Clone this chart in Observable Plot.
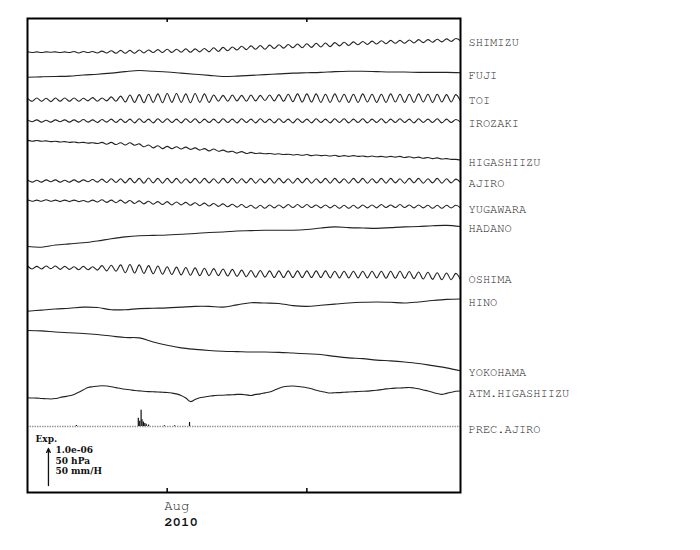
<!DOCTYPE html>
<html><head><meta charset="utf-8">
<script src="https://cdn.jsdelivr.net/npm/d3@7"></script>
<script src="https://cdn.jsdelivr.net/npm/@observablehq/plot@0.6"></script>
<style>body{margin:0;background:#fff}</style>
</head><body><div id="chart"></div>
<script>
// ---------------- DATA ----------------
const startDate = Date.UTC(2010, 6, 17);       // left edge of the chart (Jul 17, 2010)
const spanDays = 46.5;                          // plotted span in days
const stations = ["SHIMIZU","FUJI","TOI","IROZAKI","HIGASHIIZU","AJIRO","YUGAWARA","HADANO","OSHIMA","HINO","YOKOHAMA","ATM.HIGASHIIZU","PREC.AJIRO"];

// strain, unit 1e-8, sampled every 0.5 day
const shimizu = [1,-1,1,-1,1,0,1,-1,1,-1, 2,-2,2,-1,2,-2,3,-2,4,-3, 5,-3,5,-3,6,-2,6,-1,7,-1, 8,-1,8,0,9,0,9,1,10,1,
 12,2,13,4,14,6,16,7,17,8, 18,8,19,10,20,11,21,12,22,12, 23,13,24,14,25,15,26,17,27,18, 28,20,29,21,30,22,31,23,32,24,
 32,24,33,25,34,26,34,27,35,28, 36,29,37,31];
const toi = [4,-4,5,-4,4,-5,5,-4,5,-4, 5,-4,4,-3,6,-4,5,-3,8,-4, 10,-6,13,-7,14,-8,15,-7,16,-8, 17,-7,17,-7,16,-8,17,-7,16,-7,
 13,-4,12,-4,13,-3,12,-4,13,-3, 12,-2,13,-3,14,-4,15,-5,16,-6, 16,-6,16,-7,15,-7,16,-6,15,-7, 15,-7,16,-6,15,-7,15,-7,16,-6,
 15,-7,15,-7,16,-6,15,-7,15,-6, 14,-6,14,-4];
const irozaki = [3,-2,3,-3,2,-3,3,-2,3,-3, 3,-3,4,-3,3,-4,4,-3,5,-4, 5,-4,5,-5,6,-4,5,-5,6,-4, 6,-4,5,-5,6,-4,6,-5,5,-4,
 5,-5,6,-4,5,-5,6,-4,5,-5, 6,-4,5,-5,6,-4,5,-5,6,-4, 5,-5,6,-4,5,-5,6,-4,6,-5, 5,-4,6,-5,5,-4,6,-5,5,-4,
 6,-4,5,-5,6,-4,5,-4,6,-5, 5,-4,4,-3];
const higashiizu = [1,-2,0,-2,-1,-3,-2,-4,-3,-5, -4,-6,-5,-7,-6,-8,-5,-10,-5,-11, -6,-12,-6,-13,-9,-17,-12,-20,-14,-22,
 -16,-22,-17,-23,-18,-24,-20,-26,-22,-28, -23,-29,-26,-31,-29,-34,-30,-35,-32,-35, -34,-36,-35,-37,-36,-38,-37,-39,-38,-40,
 -38,-41,-39,-41,-40,-42,-40,-43,-41,-43, -41,-43,-42,-44,-42,-44,-43,-45,-43,-45, -43,-46,-44,-47,-45,-48,-46,-49,-47,-50,
 -49,-51,-51,-53];
const ajiro = [3,-3,2,-3,3,-2,3,-3,2,-3, 3,-3,3,-2,4,-3,5,-4,6,-4, 6,-5,7,-5,7,-6,8,-5,7,-6, 7,-5,7,-6,6,-5,7,-6,7,-5,
 6,-6,7,-5,7,-6,6,-5,7,-6, 6,-5,7,-6,7,-5,6,-6,7,-5, 7,-6,6,-5,7,-6,7,-5,6,-6, 7,-5,7,-6,6,-5,7,-6,7,-5,
 6,-6,7,-5,7,-6,6,-5,7,-6, 6,-5,5,-4];
const yugawara = [2,-2,1,-2,2,-2,1,-3,1,-3, 1,-3,0,-4,1,-4,2,-5,1,-6, 1,-7,0,-8,-1,-9,-2,-10,-3,-11, -3,-12,-4,-12,-5,-13,-6,-14,-7,-15,
 -8,-16,-9,-17,-10,-18,-11,-19,-13,-21, -13,-21,-12,-20,-12,-20,-11,-19,-11,-19, -11,-19,-12,-20,-12,-20,-13,-21,-13,-21,
 -13,-21,-12,-20,-12,-20,-11,-19,-12,-19, -11,-19,-12,-20,-12,-20,-13,-21,-13,-21, -13,-20,-13,-20];
const oshima = [4,-4,3,-4,4,-3,4,-5,3,-5, 2,-6,3,-6,2,-7,5,-9,6,-10, 7,-14,8,-15,7,-16,5,-17,4,-18, 2,-19,1,-20,0,-21,-1,-22,-2,-22,
 -3,-22,-4,-23,-5,-24,-7,-25,-8,-26, -8,-26,-9,-27,-9,-27,-9,-27,-9,-27, -9,-27,-9,-27,-9,-28,-10,-28,-10,-28,
 -10,-28,-10,-28,-10,-28,-10,-29,-10,-29, -10,-29,-11,-30,-12,-31,-13,-32,-14,-33, -15,-33,-16,-33];

// strain, unit 1e-8, sampled every 1.5 day
const fuji = [0,1,2,3,6,8,11,15,18,16,14,11,8,5,2,3,5,7,9,11,12,13,15,16,16,15,14,14,13,13,13,12];
const hadano = [0,-2,4,7,10,15,21,26,29,30,31,33,35,38,39,42,43,44,44,44,46,50,53,51,50,49,51,53,54,56,57,54];
const hino = [0,3,6,8,11,10,4,4,7,8,9,11,13,13,11,17,23,22,21,15,13,16,19,22,24,25,24,22,25,29,32,33];
const yokohama = [0,-1,-4,-6,-8,-11,-15,-19,-20,-31,-40,-47,-51,-54,-56,-57,-58,-58,-59,-61,-63,-65,-70,-74,-76,-80,-82,-85,-89,-95,-101,-109];

// atmospheric pressure (hPa), every 0.5 day
const atmHigashiizu = [1003.0,1002.7,1002.6,1002.0,1001.8,1001.4,1002.0,1003.4,1004.6,1005.8,
 1007.6,1010.4,1013.8,1016.9,1018.0,1018.7,1019.3,1018.9,1018.0,1016.8,
 1015.5,1014.5,1013.9,1012.9,1012.4,1011.8,1011.4,1011.1,1010.9,1010.4,
 1010.1,1009.4,1008.3,1006.2,1002.7,997.9,1000.6,1003.0,1004.1,1005.1,
 1006.0,1006.4,1006.5,1006.9,1007.1,1007.6,1007.6,1006.9,1006.2,1007.6,
 1008.3,1009.7,1010.8,1013.1,1015.9,1018.0,1018.7,1018.9,1018.3,1017.6,
 1016.6,1015.2,1013.1,1011.8,1010.4,1009.4,1009.9,1010.0,1010.6,1010.8,
 1011.1,1011.5,1011.8,1012.0,1012.7,1013.1,1014.1,1015.0,1015.5,1016.1,
 1016.2,1016.6,1016.9,1016.2,1015.2,1013.6,1012.2,1010.4,1008.7,1007.6,
 1009.0,1010.4,1011.8,1012.2];
const atmRef = 1003;

// precipitation at AJIRO (mm/h)
const precDays = [5.25, 11.9, 12.05, 12.2, 12.3, 12.45, 12.6, 12.75, 13.0, 14.7, 15.8, 17.4];
const precMmH  = [1.5, 11, 7, 22, 9, 6, 4, 3, 2, 1, 1, 5.5];

// time axis
const tickDays = [15, 30];
const tickLabels = ["Aug", ""];
const yearLabel = "2010";

// scale bar
const scaleHead = "Exp.";
const scaleLines = ["1.0e-06", "50 hPa", "50 mm/H"];
const scaleStrainUnits = 100;   // 1.0e-06 in units of 1e-8

// ---------------- LAYOUT ----------------
const W = 700, H = 550, mL = 27, mR = 240, mT = 18, mB = 58;
const PX = 0.37;                                   // px per 1e-8 strain
const yMax = (H - mB - mT) / PX;
const U = px => (H - mB - px) / PX;                // pixel row -> y units
const day = d => new Date(startDate + d * 864e5);
const rowBase = [51.7, 76.7, 99.3, 120.5, 140, 180.5, 200, 246, 267, 310.7, 330, 397.3, 426];

const seriesDefs = [
  {values: shimizu, step: 0.5, k: 1, ref: 0},
  {values: fuji, step: 1.5, k: 1, ref: 0},
  {values: toi, step: 0.5, k: 1, ref: 0},
  {values: irozaki, step: 0.5, k: 1, ref: 0},
  {values: higashiizu, step: 0.5, k: 1, ref: 0},
  {values: ajiro, step: 0.5, k: 1, ref: 0},
  {values: yugawara, step: 0.5, k: 1, ref: 0},
  {values: hadano, step: 1.5, k: 1, ref: 0},
  {values: oshima, step: 0.5, k: 1, ref: 0},
  {values: hino, step: 1.5, k: 1, ref: 0},
  {values: yokohama, step: 1.5, k: 1, ref: 0},
  {values: atmHigashiizu, step: 0.5, k: scaleStrainUnits / 50, ref: atmRef}
];

const rows = [];
seriesDefs.forEach((s, i) => {
  s.values.forEach((v, j) => rows.push({name: stations[i], date: day(j * s.step), y: U(rowBase[i]) + (v - s.ref) * s.k}));
});
const precK = scaleStrainUnits / 50;
const precBase = U(rowBase[12]);
const precRows = precDays.map((d, i) => ({date: day(d), y1: precBase, y2: precBase + precMmH[i] * precK}));

// label each trace at the level of its right end (mean of the last two samples)
const labelRows = stations.map((name, i) => {
  if (i < seriesDefs.length) {
    const r = rows.filter(d => d.name === name);
    return {name, date: day(spanDays), y: (r[r.length - 1].y + r[r.length - 2].y) / 2};
  }
  return {name, date: day(spanDays), y: precBase};
});

const tickRows = tickDays.map((d, i) => ({date: day(d), label: tickLabels[i]}));
const tickLen = 4 / PX;

const mono = "'Nimbus Mono PS', 'Nimbus Mono L', FreeMono, 'Courier New', Courier, 'Liberation Mono', monospace";
const serif = "'Century Schoolbook L', 'C059', 'DejaVu Serif', 'Liberation Serif', serif";

const chart = Plot.plot({
  width: W, height: H,
  marginLeft: mL, marginRight: mR, marginTop: mT, marginBottom: mB,
  style: {background: "white", fontFamily: mono},
  x: {type: "utc", domain: [day(0), day(spanDays)], axis: null},
  y: {domain: [0, yMax], axis: null},
  marks: [
    Plot.ruleY([precBase], {stroke: "#999", strokeWidth: 1.5, strokeDasharray: "1.5,1"}),
    Plot.ruleX(precRows, {x: "date", y1: "y1", y2: "y2", stroke: "#111", strokeWidth: 1.2}),
    Plot.line(rows, {x: "date", y: "y", z: "name", stroke: "#222", strokeWidth: 1.1, curve: "catmull-rom"}),
    Plot.text(labelRows, {x: "date", y: "y", text: "name", dx: 8, dy: 2.5, textAnchor: "start", fontFamily: mono, fontSize: 12, fill: "#222"}),
    Plot.ruleX(tickRows, {x: "date", y1: 0, y2: tickLen, stroke: "black", strokeWidth: 1.5}),
    Plot.ruleX(tickRows, {x: "date", y1: yMax - tickLen, y2: yMax, stroke: "black", strokeWidth: 1.5}),
    Plot.text(tickRows, {x: "date", y: U(505), text: "label", dx: -3, textAnchor: "start", fontFamily: mono, fontSize: 14, fill: "#222"}),
    Plot.text([{date: day(tickDays[0]), t: yearLabel}], {x: "date", y: U(521), text: "t", dx: -3, textAnchor: "start", fontFamily: mono, fontSize: 14, fontWeight: "bold", fill: "#111"}),
    Plot.text([{date: day(0.86), t: scaleHead}], {x: "date", y: U(439), text: "t", textAnchor: "start", fontFamily: serif, fontSize: 9, fontWeight: "bold", fill: "#111"}),
    Plot.arrow([{date: day(2.25), y1: U(485), y2: U(485) + scaleStrainUnits}], {x1: "date", x2: "date", y1: "y1", y2: "y2", stroke: "#111", strokeWidth: 1.3, headLength: 5, headAngle: 50}),
    Plot.text(scaleLines.map((t, i) => ({date: day(3.0), t, y: U(450 + i * 10.3)})), {x: "date", y: "y", text: "t", textAnchor: "start", fontFamily: serif, fontSize: 9, fontWeight: "bold", fill: "#111"}),
    Plot.frame({stroke: "black", strokeWidth: 2})
  ]
});
document.getElementById("chart").append(chart);
</script>
</body></html>
